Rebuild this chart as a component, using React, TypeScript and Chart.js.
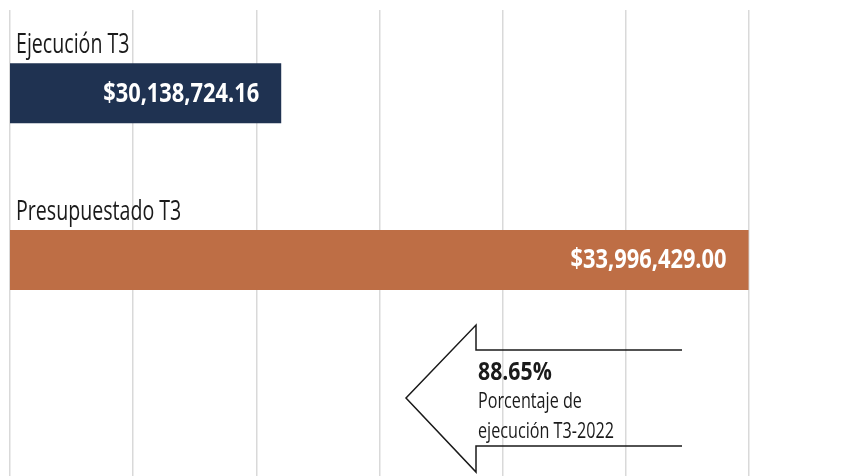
import React, { useEffect, useRef } from "react";
import { Chart, registerables } from "chart.js";

Chart.register(...registerables);

const categories = ["Ejecución T3", "Presupuestado T3", ""];
const values: (number | null)[] = [30138724.16, 33996429.0, null];
const barColors = ["#1F3251", "#BE6E45", "#FFFFFF"];
const axisMin = 27900000;
const axisMax = 34000000;
const tickCount = 7;
const noteLines = ["Porcentaje de", "ejecución T3-2022"];

const W = 863;
const H = 510;
const FONT = "'Open Sans', 'DejaVu Sans', sans-serif";

const fmtMoney = (v: number) =>
  "$" + v.toLocaleString("en-US", { minimumFractionDigits: 2, maximumFractionDigits: 2 });

function drawCondensed(ctx: CanvasRenderingContext2D, text: string, x: number, y: number, ratio: number) {
  const w = ctx.measureText(text).width;
  ctx.fillText(text, x, y, w * ratio);
}

const overlay = {
  id: "overlay",
  afterDatasetsDraw(chart: any) {
    const ctx: CanvasRenderingContext2D = chart.ctx;
    const area = chart.chartArea;
    const meta = chart.getDatasetMeta(0);
    ctx.save();
    meta.data.forEach((bar: any, i: number) => {
      const v = values[i];
      if (v == null) return;
      const p = bar.getProps(["x", "y", "height"], true);
      const top = p.y - p.height / 2;
      ctx.font = `28px ${FONT}`;
      ctx.fillStyle = "#1A1A1A";
      ctx.textAlign = "left";
      ctx.textBaseline = "alphabetic";
      drawCondensed(ctx, categories[i], area.left + 6, top - 10, 0.7);
      ctx.font = `bold 26px ${FONT}`;
      ctx.fillStyle = "#FFFFFF";
      ctx.textAlign = "right";
      ctx.textBaseline = "middle";
      drawCondensed(ctx, fmtMoney(v), p.x - 22, p.y + 1, 0.84);
    });

    // arrow annotation
    const ax = area.left;
    const ay = area.top;
    const notchX = ax + 466;
    const tipX = ax + 396;
    const rightX = ax + 672;
    const yTopOuter = ay + 315;
    const yTopInner = ay + 340;
    const yTip = ay + 388;
    const yBotInner = ay + 436;
    const yBotOuter = ay + 462;
    ctx.strokeStyle = "#1A1A1A";
    ctx.lineWidth = 1.5;
    ctx.beginPath();
    ctx.moveTo(rightX, yTopInner);
    ctx.lineTo(notchX, yTopInner);
    ctx.lineTo(notchX, yTopOuter);
    ctx.lineTo(tipX, yTip);
    ctx.lineTo(notchX, yBotOuter);
    ctx.lineTo(notchX, yBotInner);
    ctx.lineTo(rightX, yBotInner);
    ctx.stroke();

    const pct = ((values[0] as number) / (values[1] as number)) * 100;
    ctx.fillStyle = "#1A1A1A";
    ctx.textAlign = "left";
    ctx.textBaseline = "alphabetic";
    ctx.font = `bold 25px ${FONT}`;
    drawCondensed(ctx, pct.toFixed(2) + "%", notchX + 2, ay + 370, 0.85);
    ctx.font = `21px ${FONT}`;
    drawCondensed(ctx, noteLines[0], notchX + 2, ay + 398, 0.77);
    drawCondensed(ctx, noteLines[1], notchX + 2, ay + 428, 0.77);
    ctx.restore();
  },
};

export default function App() {
  const ref = useRef<HTMLCanvasElement>(null);
  useEffect(() => {
    if (!ref.current) return;
    const chart = new Chart(ref.current, {
      type: "bar",
      data: {
        labels: categories,
        datasets: [
          {
            data: values,
            backgroundColor: barColors,
            categoryPercentage: 1,
            barPercentage: 0.36,
          },
        ],
      },
      options: {
        indexAxis: "y",
        responsive: false,
        animation: false,
        layout: { padding: { left: 10, right: 114, top: 10, bottom: 0 } },
        plugins: { legend: { display: false }, tooltip: { enabled: false } },
        scales: {
          x: {
            min: axisMin,
            max: axisMax,
            ticks: { display: false, count: tickCount },
            grid: { color: "#D9D9D9", lineWidth: 1.5, drawTicks: false },
            border: { display: false },
          },
          y: { display: false },
        },
      },
      plugins: [overlay],
    });
    return () => chart.destroy();
  }, []);
  return (
    <div style={{ position: "fixed", left: 0, top: 0, width: W, height: H, background: "#fff" }}>
      <canvas ref={ref} width={W} height={H} />
    </div>
  );
}
